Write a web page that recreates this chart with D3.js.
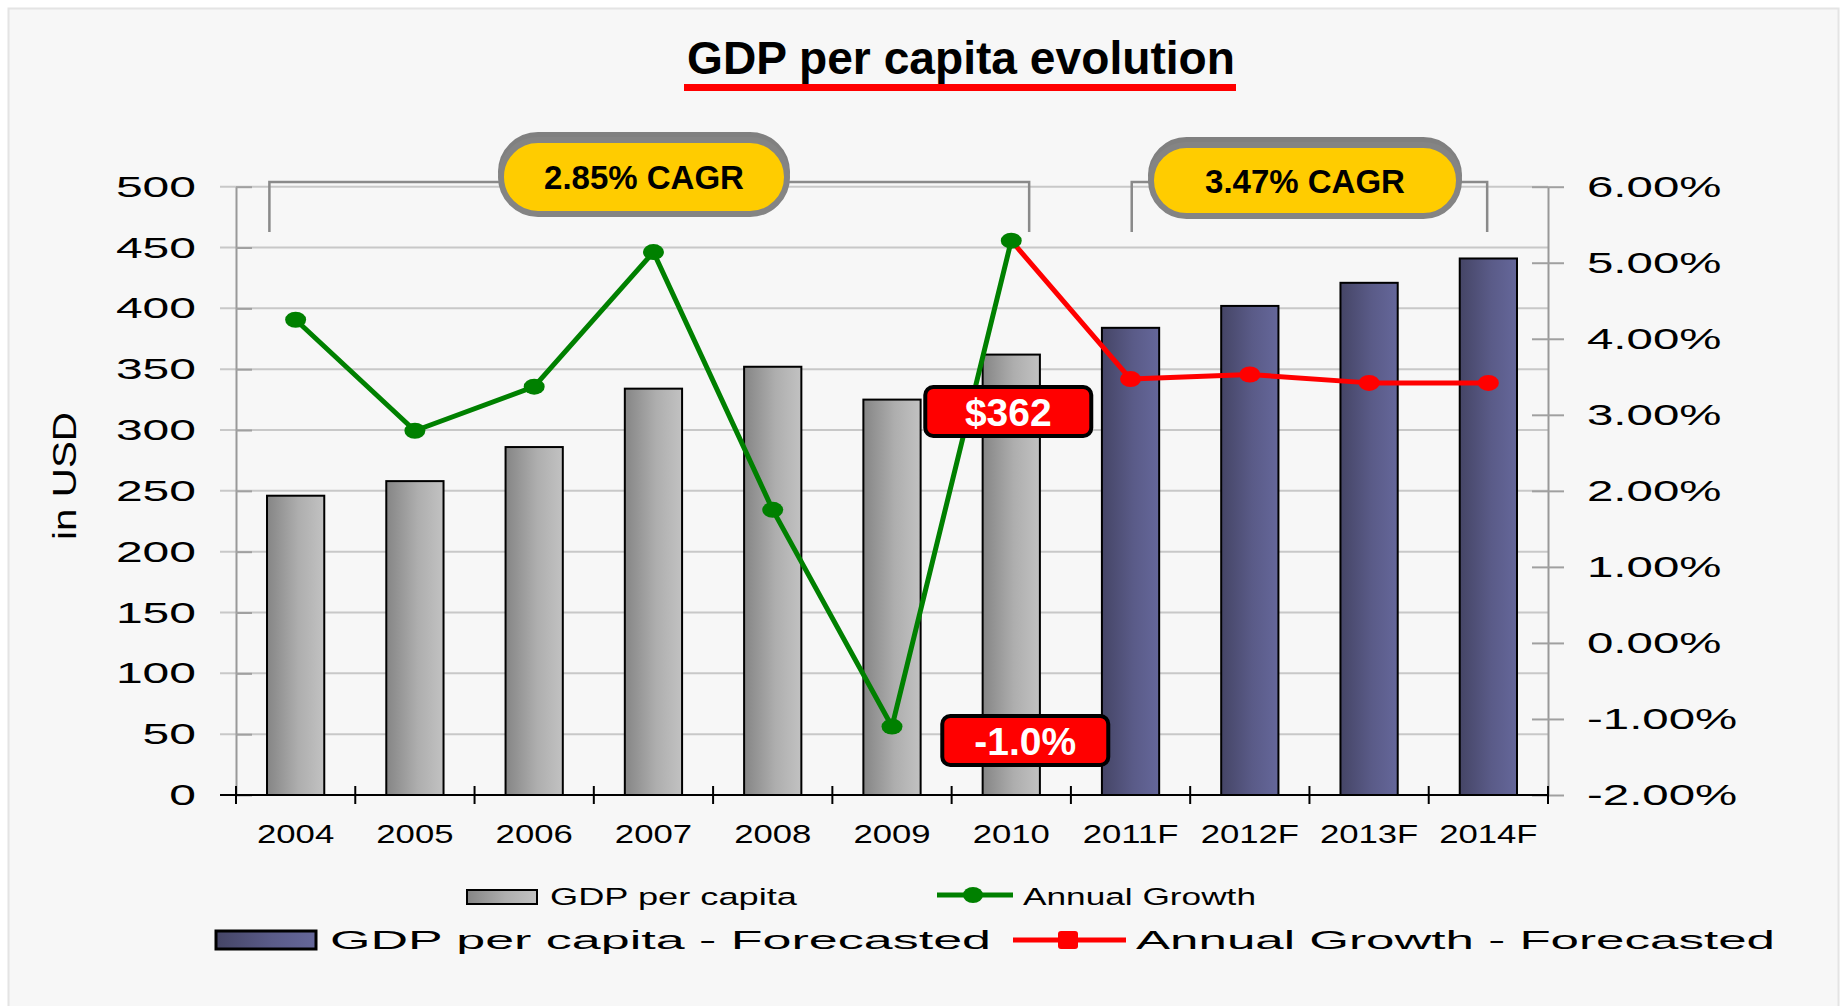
<!DOCTYPE html>
<html>
<head>
<meta charset="utf-8">
<script src="https://cdn.jsdelivr.net/npm/d3@7"></script>
<style>
  body { margin: 0; background: #fff; }
  svg { display: block; font-family: "Liberation Sans", Arial, sans-serif; }
</style>
</head>
<body>
<svg id="chart" width="1843" height="1006"></svg>
<script>
// data
var years = ['2004', '2005', '2006', '2007', '2008', '2009', '2010', '2011F', '2012F', '2013F', '2014F'];
var gdpPerCapita = [246, 258, 286, 334, 352, 325, 362, 384, 402, 421, 441];
var forecastFrom = '2011F';
// annual growth, actual years 2004..2010
var growthYears = ['2004', '2005', '2006', '2007', '2008', '2009', '2010'];
var growthActual = [4.25, 2.79, 3.37, 5.14, 1.75, -1.10, 5.29];
// forecasted growth, 2010..2014F (starts from the last actual point)
var forecastYears = ['2010', '2011F', '2012F', '2013F', '2014F'];
var growthForecast = [5.29, 3.47, 3.53, 3.42, 3.42];

var leftTicks = [0, 50, 100, 150, 200, 250, 300, 350, 400, 450, 500];
var rightTicks = [-2, -1, 0, 1, 2, 3, 4, 5, 6];

var cagrLabels = ['2.85% CAGR', '3.47% CAGR'];
var callouts = ['$362', '-1.0%'];
var legendLabels = ['GDP per capita', 'Annual Growth', 'GDP per capita - Forecasted', 'Annual Growth - Forecasted'];

var svg = d3.select('#chart');

// stretch text horizontally (the original fonts are drawn wide)
function stretch(sel, k) {
    sel.each(function () {
        var w = this.getComputedTextLength();
        d3.select(this).attr('textLength', w * k).attr('lengthAdjust', 'spacingAndGlyphs');
    });
}

// background panel
svg.append('rect').attr('x', 8.5).attr('y', 8.5).attr('width', 1830).attr('height', 1010)
    .attr('fill', '#f7f7f7').attr('stroke', '#e4e4e4').attr('stroke-width', 2);

// gradients
var defs = svg.append('defs');
var gGray = defs.append('linearGradient').attr('id', 'gray');
gGray.append('stop').attr('offset', '0%').attr('stop-color', '#858585');
gGray.append('stop').attr('offset', '55%').attr('stop-color', '#aeaeae');
gGray.append('stop').attr('offset', '100%').attr('stop-color', '#c2c2c2');
var gBlue = defs.append('linearGradient').attr('id', 'navy');
gBlue.append('stop').attr('offset', '0%').attr('stop-color', '#454566');
gBlue.append('stop').attr('offset', '55%').attr('stop-color', '#5a5b88');
gBlue.append('stop').attr('offset', '100%').attr('stop-color', '#65679a');

// title
svg.append('text').attr('x', 961).attr('y', 74).attr('text-anchor', 'middle')
    .attr('font-size', 46).attr('font-weight', 'bold').attr('textLength', 548).attr('lengthAdjust', 'spacingAndGlyphs')
    .text('GDP per capita evolution');
svg.append('rect').attr('x', 684).attr('y', 84).attr('width', 552).attr('height', 7).attr('fill', '#ff0000');

// scales
var x = d3.scaleBand().domain(years).range([236, 1548]);
var y = d3.scaleLinear().domain([0, 500]).range([795, 186.7]);
var y2 = d3.scaleLinear().domain([-2, 6]).range([795, 186.7]);
var bw = x.bandwidth();
function cx(d) { return x(d) + bw / 2; }

// gridlines
svg.append('g').selectAll('line').data(leftTicks.slice(1)).enter().append('line')
    .attr('x1', 220).attr('x2', 1548)
    .attr('y1', function (d) { return y(d); }).attr('y2', function (d) { return y(d); })
    .attr('stroke', '#c8c8c8').attr('stroke-width', 2);

// left axis
var gl = svg.append('g').attr('transform', 'translate(236,0)')
    .call(d3.axisLeft(y).tickValues(leftTicks).tickSizeInner(16).tickSizeOuter(0).tickPadding(24));
gl.select('.domain').attr('stroke', '#999').attr('stroke-width', 2);
gl.selectAll('.tick line').attr('x2', 16).attr('stroke', '#a0a0a0').attr('stroke-width', 2);
gl.selectAll('.tick text').attr('font-size', 30).attr('fill', '#000').attr('font-family', '"Liberation Sans", Arial');
stretch(gl.selectAll('.tick text'), 1.6);

// right axis
var gr = svg.append('g').attr('transform', 'translate(1548,0)')
    .call(d3.axisRight(y2).tickValues(rightTicks).tickSizeInner(16).tickSizeOuter(0).tickPadding(23)
        .tickFormat(function (d) { return d.toFixed(2) + '%'; }));
gr.select('.domain').attr('stroke', '#999').attr('stroke-width', 2);
gr.selectAll('.tick line').attr('x1', -16).attr('stroke', '#a0a0a0').attr('stroke-width', 2);
gr.selectAll('.tick text').attr('font-size', 30).attr('fill', '#000').attr('font-family', '"Liberation Sans", Arial');
stretch(gr.selectAll('.tick text'), 1.58);

// y title
svg.append('text').attr('transform', 'translate(64,476) rotate(-90)').attr('text-anchor', 'middle')
    .attr('dy', '0.36em').attr('font-size', 34).attr('textLength', 128).attr('lengthAdjust', 'spacingAndGlyphs')
    .text('in USD');

// bars
var fIdx = years.indexOf(forecastFrom);
svg.append('g').selectAll('rect').data(years).enter().append('rect')
    .attr('x', function (d) { return cx(d) - bw * 0.24; })
    .attr('width', bw * 0.48)
    .attr('y', function (d, i) { return y(gdpPerCapita[i]); })
    .attr('height', function (d, i) { return y(0) - y(gdpPerCapita[i]); })
    .attr('fill', function (d, i) { return i >= fIdx ? 'url(#navy)' : 'url(#gray)'; })
    .attr('stroke', '#000').attr('stroke-width', 2);

// x axis
svg.append('line').attr('x1', 220).attr('x2', 1548).attr('y1', y(0)).attr('y2', y(0))
    .attr('stroke', '#000').attr('stroke-width', 2);
var bounds = years.map(function (d) { return x(d); }).concat([x.range()[1]]);
svg.append('g').selectAll('line').data(bounds).enter().append('line')
    .attr('x1', function (d) { return d; }).attr('x2', function (d) { return d; })
    .attr('y1', y(0) - 9).attr('y2', y(0) + 9).attr('stroke', '#000').attr('stroke-width', 2);
var xl = svg.append('g').selectAll('text').data(years).enter().append('text')
    .attr('x', cx).attr('y', 843).attr('text-anchor', 'middle').attr('font-size', 25.5).text(function (d) { return d; });
stretch(xl, 1.36);

// CAGR brackets
var brackets = [
    [x('2004') + bw * 0.28, x('2010') + bw * 0.65],
    [x('2011F') + bw * 0.51, x('2014F') + bw * 0.49]
];
svg.append('g').selectAll('path').data(brackets).enter().append('path')
    .attr('d', function (d) { return 'M' + d[0] + ',232V182H' + d[1] + 'V232'; })
    .attr('fill', 'none').attr('stroke', '#8a8a8a').attr('stroke-width', 2.5);

// CAGR pills
var pills = [{ cx: 644, w: 286, h: 74, top: 140 }, { cx: 1305, w: 308, h: 71, top: 145 }];
pills.forEach(function (p, i) {
    svg.append('rect').attr('x', p.cx - p.w / 2).attr('y', p.top - 5).attr('width', p.w).attr('height', p.h)
        .attr('rx', p.h / 2).attr('fill', '#808080').attr('stroke', '#808080').attr('stroke-width', 6);
    svg.append('rect').attr('x', p.cx - p.w / 2).attr('y', p.top).attr('width', p.w).attr('height', p.h)
        .attr('rx', p.h / 2).attr('fill', '#ffcc00').attr('stroke', '#848484').attr('stroke-width', 6);
    svg.append('text').attr('x', p.cx).attr('y', p.top + p.h / 2 + 12).attr('text-anchor', 'middle')
        .attr('font-size', 33).attr('font-weight', 'bold').text(cagrLabels[i]);
});

// growth lines
var line = d3.line().x(function (d) { return cx(d[0]); }).y(function (d) { return y2(d[1]); });
var actualPts = d3.zip(growthYears, growthActual);
var forecastPts = d3.zip(forecastYears, growthForecast);

svg.append('path').datum(forecastPts).attr('d', line)
    .attr('fill', 'none').attr('stroke', '#ff0000').attr('stroke-width', 5).attr('stroke-linejoin', 'round');
svg.append('g').selectAll('ellipse').data(forecastPts.slice(1)).enter().append('ellipse')
    .attr('cx', function (d) { return cx(d[0]); }).attr('cy', function (d) { return y2(d[1]); })
    .attr('rx', 10.5).attr('ry', 8).attr('fill', '#ff0000');

svg.append('path').datum(actualPts).attr('d', line)
    .attr('fill', 'none').attr('stroke', '#008000').attr('stroke-width', 5).attr('stroke-linejoin', 'round');
svg.append('g').selectAll('ellipse').data(actualPts).enter().append('ellipse')
    .attr('cx', function (d) { return cx(d[0]); }).attr('cy', function (d) { return y2(d[1]); })
    .attr('rx', 10.5).attr('ry', 8).attr('fill', '#008000');

// red callouts
var c2010 = cx('2010');
var boxes = [{ x: c2010 - 86, y: 387 }, { x: c2010 - 69, y: 716 }];
boxes.forEach(function (b, i) {
    svg.append('rect').attr('x', b.x).attr('y', b.y).attr('width', 166).attr('height', 49).attr('rx', 8)
        .attr('fill', '#ff0000').attr('stroke', '#000').attr('stroke-width', 4);
    svg.append('text').attr('x', b.x + 83).attr('y', b.y + 39).attr('text-anchor', 'middle')
        .attr('font-size', 39).attr('font-weight', 'bold').attr('fill', '#fff').text(callouts[i]);
});

// legend
var lg = svg.append('g');
lg.append('rect').attr('x', 467).attr('y', 890).attr('width', 70).attr('height', 14)
    .attr('fill', 'url(#gray)').attr('stroke', '#000').attr('stroke-width', 2);
lg.append('text').attr('x', 550).attr('y', 905).attr('font-size', 24.5)
    .attr('textLength', 247).attr('lengthAdjust', 'spacingAndGlyphs').text(legendLabels[0]);
lg.append('line').attr('x1', 937).attr('x2', 1013).attr('y1', 895).attr('y2', 895)
    .attr('stroke', '#008000').attr('stroke-width', 5);
lg.append('ellipse').attr('cx', 973).attr('cy', 895).attr('rx', 10).attr('ry', 8).attr('fill', '#008000');
lg.append('text').attr('x', 1023).attr('y', 905).attr('font-size', 24.5)
    .attr('textLength', 233).attr('lengthAdjust', 'spacingAndGlyphs').text(legendLabels[1]);

lg.append('rect').attr('x', 216).attr('y', 931).attr('width', 100).attr('height', 18)
    .attr('fill', 'url(#navy)').attr('stroke', '#000').attr('stroke-width', 3);
lg.append('text').attr('x', 330).attr('y', 949).attr('font-size', 26)
    .attr('textLength', 661).attr('lengthAdjust', 'spacingAndGlyphs').text(legendLabels[2]);
lg.append('line').attr('x1', 1013).attr('x2', 1126).attr('y1', 940).attr('y2', 940)
    .attr('stroke', '#ff0000').attr('stroke-width', 5);
lg.append('rect').attr('x', 1058).attr('y', 931).attr('width', 20).attr('height', 18).attr('rx', 3).attr('fill', '#ff0000');
lg.append('text').attr('x', 1136).attr('y', 949).attr('font-size', 26)
    .attr('textLength', 639).attr('lengthAdjust', 'spacingAndGlyphs').text(legendLabels[3]);
</script>
</body>
</html>
